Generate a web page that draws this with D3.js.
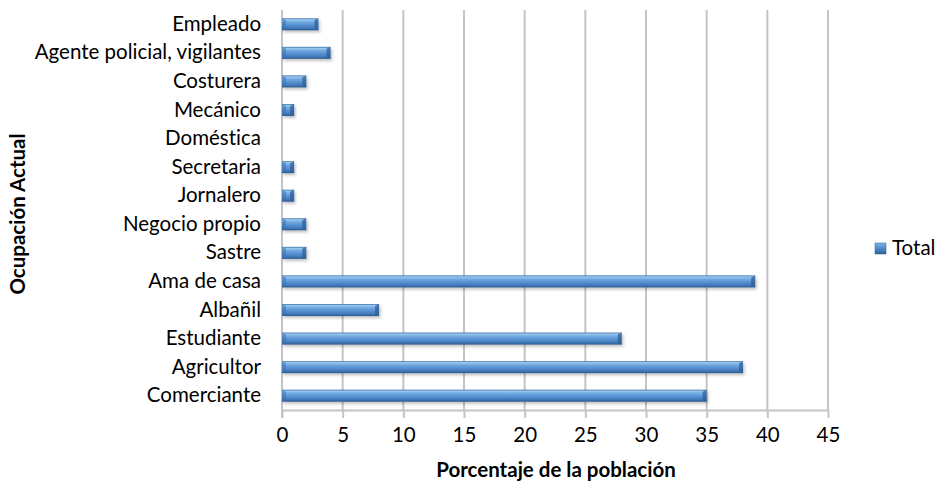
<!DOCTYPE html>
<html><head><meta charset="utf-8">
<script src="https://cdn.jsdelivr.net/npm/d3@7"></script>
<style>
body{margin:0;background:#fff;}
svg text{font-family:Lato,"Open Sans","Liberation Sans",sans-serif;fill:#000;font-variant-ligatures:none;font-feature-settings:"liga" 0;}
</style></head>
<body><svg id="c" width="937" height="482"></svg>
<script>
const categories = ["Empleado","Agente policial, vigilantes","Costurera","Mecánico","Doméstica","Secretaria","Jornalero","Negocio propio","Sastre","Ama de casa","Albañil","Estudiante","Agricultor","Comerciante"];
const totals = [3,4,2,1,0,1,1,2,2,39,8,28,38,35];
const xTicks = [0,5,10,15,20,25,30,35,40,45];
const seriesName = "Total";
const xTitle = "Porcentaje de la población";
const yTitle = "Ocupación Actual";

const svg = d3.select("#c");
const L = 282, R = 828, T = 10, B = 410;
const x = d3.scaleLinear().domain([0,45]).range([L,R]);
const y = d3.scaleBand().domain(categories).range([T,B]).paddingInner(0.58).paddingOuter(0.29);

const defs = svg.append("defs");
const g1 = defs.append("linearGradient").attr("id","bar").attr("x1",0).attr("y1",0).attr("x2",0).attr("y2",1);
[[0,"#3a6ea8"],[0.12,"#9cc8ef"],[0.3,"#72aae2"],[0.6,"#538ecf"],[0.85,"#3f76b4"],[1,"#2a5488"]].forEach(s=>g1.append("stop").attr("offset",s[0]).attr("stop-color",s[1]));
const g2 = defs.append("linearGradient").attr("id","leg").attr("x1",0).attr("y1",0).attr("x2",0).attr("y2",1);
[[0,"#7fb5e6"],[0.5,"#4f8acb"],[1,"#2f5f95"]].forEach(s=>g2.append("stop").attr("offset",s[0]).attr("stop-color",s[1]));
const f = defs.append("filter").attr("id","sh").attr("x","-10%").attr("y","-50%").attr("width","130%").attr("height","250%");
f.append("feDropShadow").attr("dx",1.5).attr("dy",2).attr("stdDeviation",1.5).attr("flood-color","#000").attr("flood-opacity",0.25);

// gridlines
svg.append("g").selectAll("line").data(xTicks.slice(1)).join("line")
  .attr("x1",d=>x(d)).attr("x2",d=>x(d)).attr("y1",T).attr("y2",B)
  .attr("stroke","#c4c4c4").attr("stroke-width",2);

// x axis
const xa = svg.append("g").attr("transform",`translate(0,${B})`)
  .call(d3.axisBottom(x).tickValues(xTicks).tickSize(8).tickPadding(9).tickSizeOuter(0));
xa.select(".domain").attr("stroke","#c4c4c4").attr("stroke-width",2);
xa.selectAll(".tick line").attr("stroke","#c4c4c4").attr("stroke-width",2);
xa.selectAll("text").style("font-size","20.5px");

// y axis
const ya = svg.append("g").attr("transform",`translate(${L},0)`)
  .call(d3.axisLeft(y).tickSize(0).tickPadding(21));
ya.select(".domain").attr("stroke","#c4c4c4").attr("stroke-width",2).attr("d",`M0,${T}V${B+8}`);
ya.selectAll("text").style("font-size","20.5px");

// bars
const bars = svg.append("g").selectAll("g").data(categories.map((c,i)=>({c,v:totals[i]}))).join("g")
  .filter(d=>d.v>0);
bars.append("rect").attr("x",x(0)).attr("y",d=>y(d.c)).attr("width",d=>x(d.v)-x(0)).attr("height",y.bandwidth())
  .attr("fill","url(#bar)").attr("filter","url(#sh)");
bars.append("path").attr("d",d=>{const x1=x(d.v), y0=y(d.c), h=y.bandwidth(), b=Math.min(4,(x1-x(0))/2);
  return `M${x1-b},${y0+2}L${x1},${y0}L${x1},${y0+h}L${x1-b},${y0+h-2}Z`;})
  .attr("fill","#2f5f95").attr("opacity",0.75);
bars.append("path").attr("d",d=>{const x0=x(0), y0=y(d.c), h=y.bandwidth();
  return `M${x0},${y0}L${x0+4},${y0+2}L${x0+4},${y0+h-2}L${x0},${y0+h}Z`;})
  .attr("fill","#3a6ea8").attr("opacity",0.5);

// titles
svg.append("text").attr("x",556).attr("y",477).attr("text-anchor","middle")
  .style("font-size","20.5px").style("font-weight","bold").text(xTitle);
svg.append("text").attr("transform",`translate(25,214) rotate(-90)`).attr("text-anchor","middle")
  .style("font-size","20.5px").style("font-weight","bold").text(yTitle);

// legend
const lg = svg.append("g").attr("transform","translate(875,243)");
lg.append("rect").attr("width",11).attr("height",11).attr("fill","url(#leg)").attr("stroke","#2f5f95").attr("stroke-width",0.5);
lg.append("text").attr("x",17).attr("y",12).style("font-size","20.5px").text(seriesName);
</script></body></html>
